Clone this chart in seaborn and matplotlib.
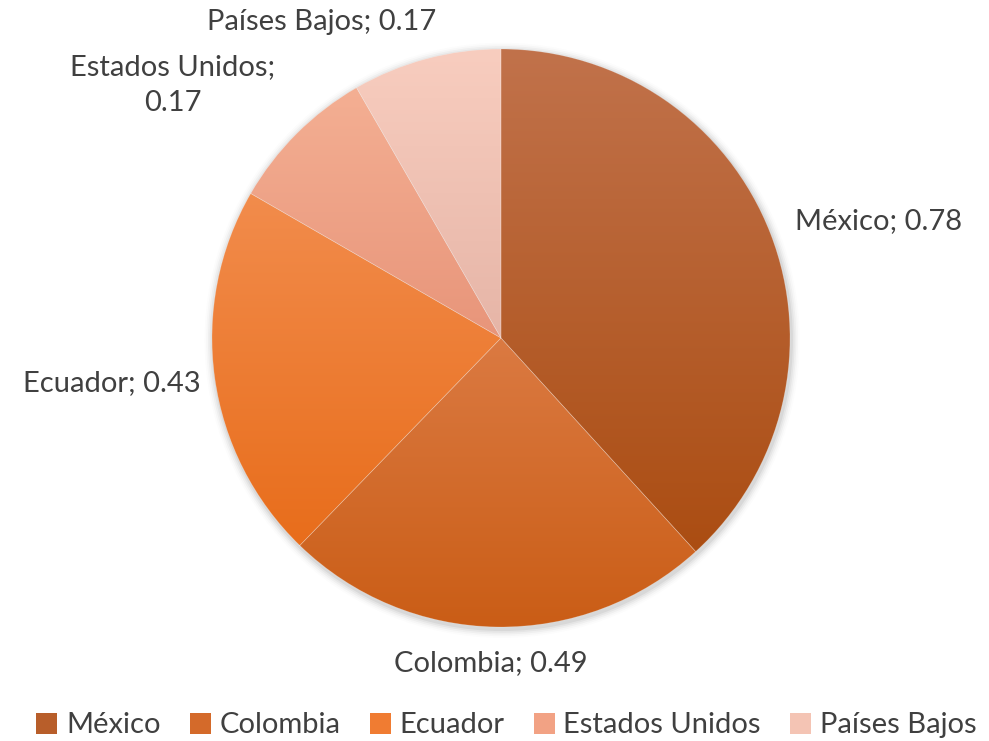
import numpy as np
import matplotlib
matplotlib.use("Agg")
import matplotlib.pyplot as plt
import seaborn as sns
from matplotlib.colors import to_rgb
from matplotlib.patches import Patch

# =====================
# Data
# =====================
paises = ["México", "Colombia", "Ecuador", "Estados Unidos", "Países Bajos"]
valores = [0.78, 0.49, 0.43, 0.17, 0.17]
etiquetas = ["México; 0.78", "Colombia; 0.49", "Ecuador; 0.43",
             "Estados Unidos;\n0.17", "Países Bajos; 0.17"]

# gradient colours per slice (top, bottom)
color_top = ["#C1724B", "#DB7A42", "#F28C4C", "#F4AF93", "#F8CDBF"]
color_bot = ["#AB4D12", "#CA5D16", "#E86D1B", "#E8957A", "#E6B5A7"]
color_mid = ["#B85E2A", "#D46A2A", "#F07C32", "#F2A284", "#F4C4B4"]

# label positions (data coords, radius = 1)
label_xy = [(1.306, 0.405), (-0.035, -1.123), (-1.345, -0.155),
            (-1.135, 0.876), (-0.62, 1.095)]

# =====================
# Figure
# =====================
sns.set_theme(style="white")
plt.rcParams["font.family"] = ["Lato", "DejaVu Sans"]
TEXT = "#404040"

fig = plt.figure(figsize=(9.89, 7.41), dpi=100)
cx, cy, R = 501, 741 - 338, 289
half = 340
ax = fig.add_axes([(cx - half) / 989, (cy - half) / 741, 2 * half / 989, 2 * half / 741])
lim = half / R

wedges, _ = ax.pie(valores, colors=color_mid, startangle=90, counterclock=False,
                   radius=1, center=(0, 0), frame=True,
                   wedgeprops=dict(linewidth=0.5, edgecolor=(1, 1, 1, 0.25)))
ax.set_xlim(-lim, lim)
ax.set_ylim(-lim, lim)
ax.set_aspect("equal")
ax.axis("off")

# soft shadow behind the pie
for i, a in enumerate(np.linspace(0.05, 0.01, 5)):
    c = plt.Circle((0.004, -0.008), 1 + 0.006 * (i + 1), color="black", alpha=a, zorder=0, lw=0)
    ax.add_patch(c)

# vertical gradient inside each slice
fig.canvas.draw()
inv = ax.transData.inverted()
for w, ct, cb in zip(wedges, color_top, color_bot):
    bb = w.get_window_extent().transformed(inv)
    t = np.linspace(0, 1, 256)[:, None]
    grad = (1 - t) * np.array(to_rgb(ct)) + t * np.array(to_rgb(cb))
    grad = grad[:, None, :].repeat(2, axis=1)
    im = ax.imshow(grad, extent=[bb.x0, bb.x1, bb.y0, bb.y1], origin="upper",
                   aspect="auto", zorder=w.get_zorder() + 0.1, interpolation="bilinear")
    im.set_clip_path(w)
    w.set_zorder(w.get_zorder() + 0.2)
    w.set_facecolor("none")

ax.set_xlim(-lim, lim)
ax.set_ylim(-lim, lim)

for (x, y), txt in zip(label_xy, etiquetas):
    ax.text(x, y, txt, ha="center", va="center", fontsize=21, color=TEXT,
            linespacing=1.45)

# legend with solid patches
handles = [Patch(facecolor=c, edgecolor="none") for c in color_mid]
fig.legend(handles, paises, loc="center", bbox_to_anchor=(0.512, 0.021), ncol=5,
           frameon=False, fontsize=21, handlelength=0.72, handleheight=0.72,
           handletextpad=0.3, columnspacing=1.0, labelcolor=TEXT)

fig.savefig("out.png", dpi=100)
